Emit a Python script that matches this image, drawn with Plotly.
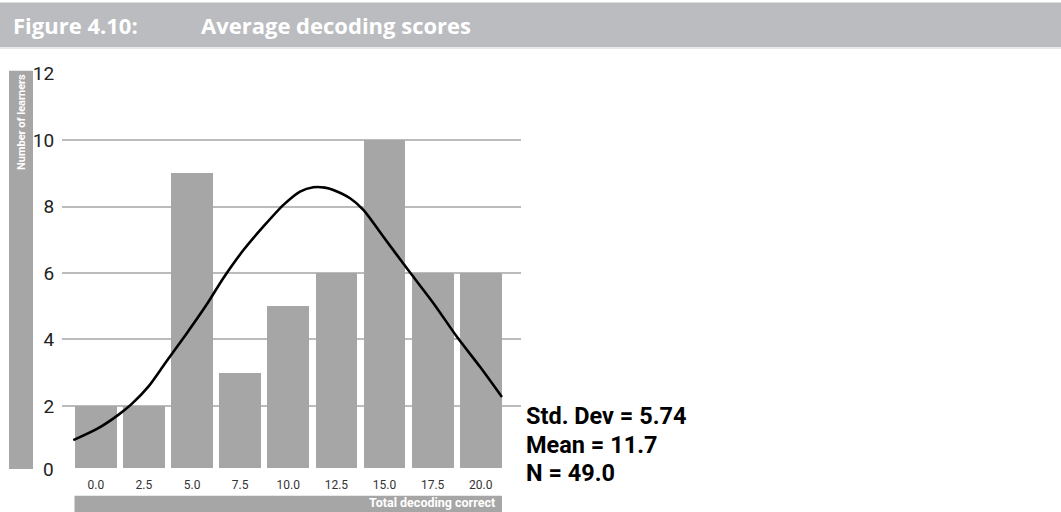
import plotly.graph_objects as go

# Data
categories = [0.0, 2.5, 5.0, 7.5, 10.0, 12.5, 15.0, 17.5, 20.0]
counts = [2, 2, 9, 3, 5, 6, 10, 6, 6]
tick_labels = ["0.0", "2.5", "5.0", "7.5", "10.0", "12.5", "15.0", "17.5", "20.0"]

# Normal curve
curve_x = [-1.17, 0.13, 1.17, 1.87, 2.73, 3.60, 4.72, 5.76, 6.63, 7.67, 8.71, 9.75,
           10.61, 11.30, 11.90, 12.34, 13.21, 13.90, 14.94, 16.16, 17.54, 18.76, 19.97, 21.10]
curve_y = [0.97, 1.33, 1.73, 2.06, 2.58, 3.28, 4.18, 5.05, 5.85, 6.69, 7.40, 8.05,
           8.45, 8.58, 8.57, 8.50, 8.25, 7.90, 7.09, 6.14, 5.09, 4.08, 3.17, 2.27]

y_ticks = [2, 4, 6, 8, 10, 12]
stats_lines = ["Std. Dev = 5.74", "Mean = 11.7", "N = 49.0"]

W, H = 1061, 512
L, R, T, B = 62, W - 521, 73, 44
PW, PH = W - L - R, H - T - B


def px(xp):
    return (xp - L) / PW


def py(yp):
    return (H - B - yp) / PH


fig = go.Figure()
fig.add_trace(go.Bar(x=categories, y=counts, width=2.17, marker_color="#a6a6a6",
                     marker_line_width=0, hoverinfo="skip"))
fig.add_trace(go.Scatter(x=curve_x, y=curve_y, mode="lines",
                         line=dict(color="black", width=2.6, shape="spline", smoothing=0.8),
                         hoverinfo="skip"))

shapes = [
    # title bar
    dict(type="rect", xref="paper", yref="paper", x0=px(0), x1=px(W), y0=py(47), y1=py(2.5),
         fillcolor="#bbbcbf", line_width=0, layer="below"),
    dict(type="line", xref="paper", yref="paper", x0=px(0), x1=px(W), y0=py(48), y1=py(48),
         line=dict(color="#dfe0e2", width=1.5)),
    # y title band
    dict(type="rect", xref="paper", yref="paper", x0=px(9), x1=px(33), y0=py(469), y1=py(70.7),
         fillcolor="#a6a6a6", line_width=0, layer="below"),
    # x title band
    dict(type="rect", xref="paper", yref="paper", x0=px(74.5), x1=px(502), y0=py(520), y1=py(495.7),
         fillcolor="#a6a6a6", line_width=0, layer="below"),
]

annotations = [
    dict(text="<b>Figure 4.10:</b>", xref="paper", yref="paper", x=px(11), y=py(25),
         xanchor="left", yanchor="middle", showarrow=False,
         font=dict(family="Open Sans", size=22, color="white")),
    dict(text="<b>Average decoding scores</b>", xref="paper", yref="paper", x=px(199), y=py(25),
         xanchor="left", yanchor="middle", showarrow=False,
         font=dict(family="Open Sans", size=22, color="white")),
    dict(text="<b>Number of learners</b>", xref="paper", yref="paper", x=px(21), y=py(72),
         xanchor="center", yanchor="top", textangle=-90, showarrow=False,
         font=dict(family="Roboto", size=11, color="white")),
    dict(text="<b>Total decoding correct</b>", xref="paper", yref="paper", x=px(497), y=py(512),
         xanchor="right", yanchor="bottom", showarrow=False,
         font=dict(family="Roboto", size=12.5, color="white")),
    dict(text="0", xref="paper", yref="paper", x=px(56), y=py(469),
         xanchor="right", yanchor="middle", showarrow=False,
         font=dict(family="Roboto", size=19, color="#222222")),
]
for txt, yc in zip(stats_lines, [416, 445, 473]):
    annotations.append(dict(text="<b>" + txt + "</b>", xref="paper", yref="paper", x=px(524), y=py(yc),
                            xanchor="left", yanchor="middle", showarrow=False,
                            font=dict(family="Roboto", size=23.5, color="black")))

fig.update_layout(
    width=W, height=H,
    margin=dict(l=L, r=R, t=T, b=B),
    paper_bgcolor="white", plot_bgcolor="white",
    showlegend=False, bargap=0,
    shapes=shapes, annotations=annotations,
    xaxis=dict(range=[-1.757, 22.09], tickvals=categories, ticktext=tick_labels,
               showgrid=False, zeroline=False, showline=False,
               ticks="outside", ticklen=6, tickcolor="rgba(0,0,0,0)",
               tickfont=dict(family="Roboto", size=12, color="#333333")),
    yaxis=dict(range=[0.13, 12.02], tickvals=y_ticks,
               showgrid=True, gridcolor="#bcbcbc", gridwidth=1.5, zeroline=False, showline=False,
               ticks="outside", ticklen=3, tickcolor="rgba(0,0,0,0)",
               tickfont=dict(family="Roboto", size=19, color="#222222")),
)

fig.write_html("out.html", config={"displayModeBar": False},
               post_script="document.body.style.margin='0';document.body.style.padding='0';")
